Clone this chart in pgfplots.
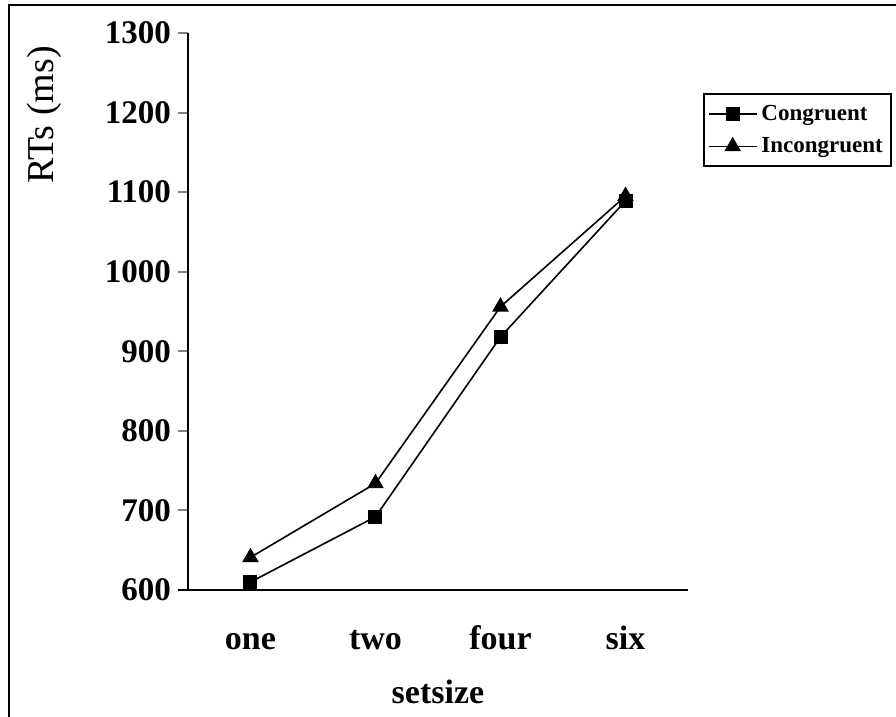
\documentclass[border=0pt]{standalone}
\usepackage{fontspec}
\setmainfont{Liberation Serif}
\usepackage{pgfplots}
\pgfplotsset{compat=1.18}

\begin{document}
\begin{tikzpicture}
% page = 896x717 px at 0.5pt per px
\path[use as bounding box] (0,0) rectangle (448pt,-358.5pt);
\draw[line width=1pt] (4.5pt,-358.5pt) -- (4.5pt,-2.5pt) -- (448pt,-2.5pt);
\begin{axis}[
  at={(94pt,-295pt)}, anchor=south west,
  scale only axis, width=250pt, height=278.5pt,
  xmin=-0.5, xmax=3.5, ymin=600, ymax=1300,
  axis x line=bottom, axis y line=left,
  axis line style={-, line width=1pt},
  x axis line style={shorten <=-5pt},
  xtick={0,1,2,3}, xticklabels={one,two,four,six},
  xtick style={draw=none},
  ytick={600,700,...,1300},
  ytick style={line width=1pt},
  tick align=outside, major tick length=5pt,
  /pgf/number format/assume math mode=true,
  /pgf/number format/1000 sep={},
  yticklabel style={font=\fontsize{16.5}{19}\selectfont\bfseries},
  xticklabel style={font=\fontsize{17}{20}\selectfont\bfseries, anchor=base, yshift=-24.5pt},
  xlabel={setsize},
  xlabel style={font=\fontsize{17}{20}\selectfont\bfseries, at={(axis description cs:0.5,-0.183)}, anchor=center},
  ylabel={RTs (ms)},
  ylabel style={font=\fontsize{19}{22}\selectfont, at={(axis description cs:-0.288,0.853)}, anchor=center},
  legend style={at={(1.03,0.892)}, anchor=north west, draw=black, line width=1pt,
    font=\fontsize{11.5}{13}\selectfont\bfseries, row sep=3pt, inner xsep=2pt, inner ysep=3.5pt},
  legend cell align=left,
  legend image code/.code={\draw[#1, mark repeat=2, mark phase=2] plot coordinates {(0cm,0cm) (0.42cm,0cm) (0.84cm,0cm)};},
]
\addplot[black, line width=0.8pt, mark=square*, mark size=3.1pt] coordinates {
  (0,610) (1,692) (2,918) (3,1089)
};
\addlegendentry{Congruent}
\addplot[black, line width=0.8pt, mark=triangle*, mark size=4pt] coordinates {
  (0,641) (1,734) (2,956) (3,1095)
};
\addlegendentry{Incongruent}
\end{axis}
\end{tikzpicture}
\end{document}
